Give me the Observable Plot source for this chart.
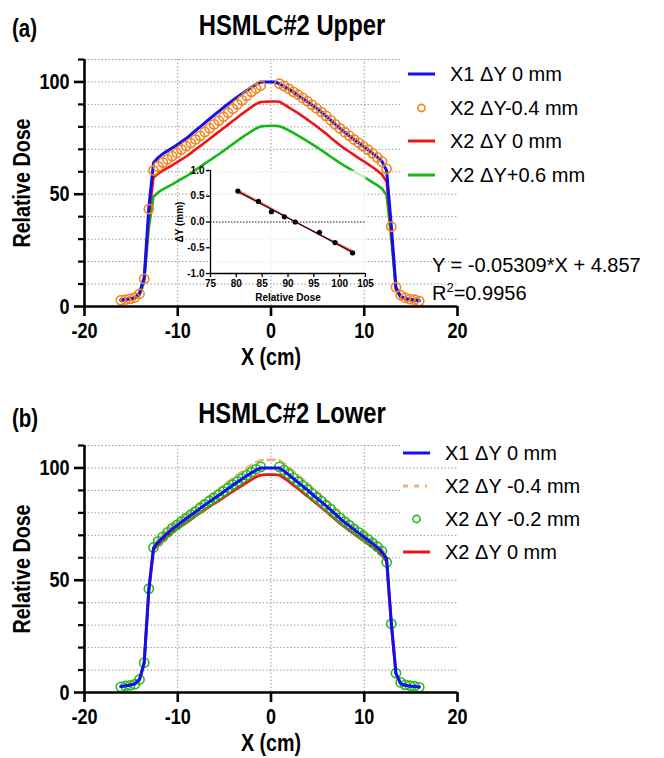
<!DOCTYPE html>
<html><head><meta charset="utf-8">
<script src="https://cdn.jsdelivr.net/npm/d3@7"></script>
<script src="https://cdn.jsdelivr.net/npm/@observablehq/plot@0.6"></script>
<style>
body{margin:0;background:#fff;}
#wrap{position:relative;width:664px;height:758px;overflow:hidden;background:#fff;font-family:"Liberation Sans",Arial,sans-serif;color:#000;}
.abs{position:absolute;white-space:nowrap;}
.nb{font-family:"Liberation Sans",Arial,sans-serif;font-weight:bold;}
.ltxt{font-size:20px;line-height:20px;}
.narrowL{transform:scaleX(0.82);transform-origin:left center;}
.narrowC{transform:scaleX(0.82);transform-origin:center center;}
</style></head><body>
<div id="wrap">
  <div class="abs nb narrowL" style="left:12px;top:16px;font-size:25px;line-height:25px;">(a)</div>
  <div class="abs nb narrowC" style="left:0;width:584px;text-align:center;top:11px;font-size:29px;line-height:29px;">HSMLC#2 Upper</div>
  <div class="abs nb narrowL" style="left:12px;top:406px;font-size:25px;line-height:25px;">(b)</div>
  <div class="abs nb narrowC" style="left:0;width:584px;text-align:center;top:399px;font-size:29px;line-height:29px;">HSMLC#2 Lower</div>
  <div id="top" class="abs" style="left:0;top:40px;"></div>
  <div id="bot" class="abs" style="left:0;top:426px;"></div>
  <div id="inset" class="abs" style="left:160px;top:160px;"></div>
  <div id="legTop"></div>
  <div id="legBot"></div>
  <div class="abs ltxt" style="left:432px;top:255px;">Y = -0.05309*X + 4.857</div>
  <div class="abs ltxt" style="left:432px;top:283px;">R<sup style="font-size:13px;line-height:0;vertical-align:8px;">2</sup>=0.9956</div>
</div>
<script>
// ---------- data ----------
const xPos = [-16.1,-15.6,-15.1,-14.6,-14.1,-13.6,-13.1,-12.6,-12.1,-11.6,-11.1,-10.6,-10.1,-9.6,-9.1,-8.6,-8.1,-7.6,-7.1,-6.6,-6.1,-5.6,-5.1,-4.6,-4.1,-3.6,-3.1,-2.6,-2.1,-1.6,-1.1,-0.6,-0.1,0.4,0.9,1.4,1.9,2.4,2.9,3.4,3.9,4.4,4.9,5.4,5.9,6.4,6.9,7.4,7.9,8.4,8.9,9.4,9.9,10.4,10.9,11.4,11.9,12.4,12.9,13.4,13.9,14.4,14.9,15.4,15.9];

// (a) Upper
const upX1dy0 = [3.0,3.2,3.5,4.0,6.0,13.0,44.0,64.0,66.3,68.0,69.3,70.6,71.9,73.4,74.8,76.5,78.3,80.0,81.8,83.5,85.2,86.9,88.6,90.2,91.8,93.3,94.8,96.2,97.6,98.9,100.0,100.0,100.0,100.0,99.2,98.0,96.8,95.5,94.0,92.6,91.2,89.7,88.3,86.6,84.8,83.0,81.1,79.3,77.6,76.0,74.4,72.9,71.3,69.8,68.2,66.5,64.6,60.5,36.0,8.5,4.5,3.6,3.2,3.0,2.8];
const upX2dyM04 = [2.8,3.1,3.4,4.0,5.7,12.3,43.4,60.6,62.4,64.1,65.5,67.0,68.4,69.9,71.4,72.8,74.4,76.0,77.7,79.4,81.1,82.8,84.5,86.3,88.1,90.0,91.8,93.8,95.6,97.1,98.4,null,null,null,99.2,98.2,97.0,95.6,94.3,92.9,91.4,89.8,88.2,86.6,84.9,83.0,81.1,79.3,77.6,76.0,74.4,72.9,71.3,69.8,68.2,66.4,64.5,61.3,35.6,8.6,5.0,3.9,3.3,3.0,2.4];
const upX2dy0 = [2.7,3.0,3.3,3.8,5.5,12.0,40.0,57.5,59.2,60.5,61.7,62.9,64.2,65.5,66.8,68.3,69.9,71.4,73.0,74.6,76.2,77.8,79.4,81.0,82.6,84.2,85.8,87.3,88.8,90.2,91.1,91.2,91.3,91.3,91.2,90.0,88.7,87.4,86.1,84.7,83.2,81.7,80.2,78.6,77.0,75.2,73.5,71.8,70.3,68.9,67.5,66.1,64.8,63.4,62.0,60.5,58.8,55.5,33.0,8.0,4.3,3.4,3.0,2.8,2.6];
const upX2dyP06 = [2.5,2.8,3.1,3.5,5.0,11.0,35.0,49.0,50.8,52.2,53.3,54.4,55.6,56.8,58.0,59.3,60.8,62.2,63.6,65.0,66.4,67.8,69.3,70.8,72.3,73.8,75.3,76.7,78.0,79.3,80.2,80.4,80.5,80.5,80.3,79.5,78.4,77.3,76.1,74.9,73.6,72.3,71.0,69.6,68.2,66.7,65.3,63.9,62.6,61.4,60.2,59.0,57.8,56.6,55.3,54.0,52.5,49.5,30.0,7.5,4.0,3.2,2.8,2.6,2.4];

// (b) Lower
const loX1dy0 = [2.7,3.0,3.3,3.9,5.8,13.3,46.0,64.4,67.0,69.0,71.0,72.8,74.3,75.9,77.4,78.9,80.4,82.0,83.5,85.0,86.4,87.8,89.3,90.8,92.3,93.7,95.1,96.5,97.8,99.0,100.0,100.0,100.0,100.0,100.0,98.6,97.0,95.3,93.6,91.9,90.2,88.4,86.6,84.9,83.1,81.3,79.4,77.5,75.8,74.2,72.6,71.0,69.5,67.9,66.3,64.6,62.6,59.5,31.0,8.5,4.0,3.2,2.9,2.7,2.5];
const loX2dyM04 = [2.8,3.1,3.4,4.0,6.0,13.6,47.0,65.5,68.4,70.5,72.6,74.5,76.1,77.8,79.4,81.0,82.7,84.4,86.0,87.6,89.1,90.6,92.2,93.8,95.4,96.9,98.4,99.9,101.3,102.6,103.4,103.6,103.6,103.6,103.4,102.1,100.4,98.6,96.8,95.0,93.2,91.3,89.4,87.6,85.7,83.8,81.8,79.8,78.0,76.3,74.6,72.9,71.3,69.6,67.9,66.1,64.0,60.5,32.0,8.8,4.1,3.3,3.0,2.8,2.6];
const loX2dyM02 = [2.5,2.9,3.2,3.7,5.8,13.3,46.2,64.6,67.3,69.3,71.3,73.1,74.6,76.2,77.7,79.2,80.7,82.3,83.8,85.3,86.7,88.1,89.6,91.1,92.6,94.0,95.4,96.8,98.1,99.4,100.5,null,null,null,100.5,99.0,97.3,95.6,93.9,92.2,90.5,88.7,86.9,85.2,83.4,81.6,79.7,77.8,76.1,74.5,72.9,71.3,69.8,68.2,66.6,64.9,62.9,58.0,30.6,8.6,4.5,3.4,3.0,2.8,2.3];
const loX2dy0 = [2.6,2.9,3.2,3.8,5.6,13.0,45.0,63.5,65.9,67.8,69.6,71.3,72.7,74.2,75.6,77.0,78.5,80.0,81.4,82.8,84.1,85.4,86.8,88.2,89.6,90.9,92.2,93.5,94.8,96.0,96.8,97.0,97.0,97.0,96.8,95.5,94.0,92.4,90.8,89.1,87.5,85.8,84.1,82.4,80.7,78.9,77.1,75.3,73.7,72.1,70.6,69.1,67.7,66.2,64.7,63.1,61.2,58.3,30.5,8.3,3.9,3.1,2.8,2.6,2.4];

// inset: dose vs ΔY
const insetDose = [80.3,84.3,86.8,89.3,91.4,96.1,99.1,102.5];
const insetDY   = [0.6,0.4,0.2,0.1,0.0,-0.2,-0.4,-0.6];
const fitDose = [80.3,102.5];
const fitDY   = [0.594,-0.585];
const bandDose = [80.3,86.0,91.4,97.0,102.5];
const bandLo   = [0.55,0.27,-0.015,-0.31,-0.63];
const bandHi   = [0.64,0.33,0.015,-0.27,-0.54];

// axes
const xDomain = [-20,20];
const yDomain = [0,110];
const xTicks = [-20,-10,0,10,20];
const xGrid = [-10,0,10];
const yMajor = [0,50,100];
const yMinor = [10,20,30,40,60,70,80,90,110];
const yGrid = [10,20,30,40,50,60,70,80,90,100,110];
const insetXTicks = [75,80,85,90,95,100,105];
const insetYTicks = [-1.0,-0.5,0.0,0.5,1.0];

const legTopItems = [
  {label:"X1 ΔY 0 mm", color:"#1010f0", kind:"line"},
  {label:"X2 ΔY-0.4 mm", color:"#f5841f", kind:"circle"},
  {label:"X2 ΔY 0 mm", color:"#f01515", kind:"line"},
  {label:"X2 ΔY+0.6 mm", color:"#15b815", kind:"line"}
];
const legBotItems = [
  {label:"X1 ΔY 0 mm", color:"#1010f0", kind:"line"},
  {label:"X2 ΔY -0.4 mm", color:"#f4b07a", kind:"dash"},
  {label:"X2 ΔY -0.2 mm", color:"#22bb22", kind:"circle"},
  {label:"X2 ΔY 0 mm", color:"#f01515", kind:"line"}
];

// ---------- helpers ----------
const FONT = '"Liberation Sans",Arial,sans-serif';
const tbl = arr => xPos.map((x,i) => ({x, y: arr[i]}));
const gridStyle = {stroke:"#9c9c9c", strokeOpacity:1, strokeWidth:1, strokeDasharray:"1.5,2"};

function condense(svg, f) {
  svg.querySelectorAll("text").forEach(t => {
    if (t.querySelector("tspan")) return;
    const L = t.getComputedTextLength();
    if (L > 0) {
      t.setAttribute("textLength", (L * f).toFixed(2));
      t.setAttribute("lengthAdjust", "spacingAndGlyphs");
    }
  });
}

function panel(lines) {
  return Plot.plot({
    width: 470, height: 330,
    marginLeft: 84, marginRight: 13, marginTop: 19, marginBottom: 64,
    x: {domain: xDomain},
    y: {domain: yDomain},
    style: {fontFamily: FONT, fontSize: "22px", fontWeight: "bold", background: "transparent", overflow: "visible"},
    marks: [
      Plot.gridY(yGrid, gridStyle),
      Plot.gridX(xGrid, gridStyle),
      ...lines,
      Plot.ruleX([xDomain[0]], {y1: yDomain[0], y2: yDomain[1], stroke:"#000", strokeWidth: 2.6}),
      Plot.ruleY([yDomain[0]], {x1: xDomain[0], x2: xDomain[1], stroke:"#000", strokeWidth: 2.6}),
      Plot.axisX(xTicks, {tickSize: 10, tickPadding: 6, strokeWidth: 2.6, label: null, tickFormat: d => String(d)}),
      Plot.axisY(yMajor, {tickSize: 10, tickPadding: 5, strokeWidth: 2.6, label: null, tickFormat: d => String(d)}),
      Plot.axisY(yMinor, {tickSize: 6, strokeWidth: 2.2, label: null, tickFormat: () => ""}),
      Plot.text(["Relative Dose"], {frameAnchor: "left", textAnchor: "middle", dx: -62, rotate: -90, fontSize: 24, fontWeight: "bold"}),
      Plot.text(["X (cm)"], {frameAnchor: "bottom", textAnchor: "middle", lineAnchor: "middle", dy: 51, fontSize: 24, fontWeight: "bold"})
    ]
  });
}

const topPlot = panel([
  Plot.line(tbl(upX2dyP06), {x:"x", y:"y", stroke:"#15b815", strokeWidth: 2.6}),
  Plot.line(tbl(upX2dy0), {x:"x", y:"y", stroke:"#f01515", strokeWidth: 2.6}),
  Plot.line(tbl(upX1dy0), {x:"x", y:"y", stroke:"#1010f0", strokeWidth: 3}),
  Plot.dot(tbl(upX2dyM04), {x:"x", y:"y", r: 4.6, stroke:"#f5841f", strokeWidth: 1.6, fill: "none"})
]);
document.getElementById("top").appendChild(topPlot);
condense(topPlot, 0.82);

const botPlot = panel([
  Plot.line(tbl(loX2dyM04), {x:"x", y:"y", stroke:"#f4b07a", strokeWidth: 2.6, strokeDasharray: "7,5"}),
  Plot.line(tbl(loX2dy0), {x:"x", y:"y", stroke:"#f01515", strokeWidth: 2.8}),
  Plot.dot(tbl(loX2dyM02), {x:"x", y:"y", r: 4.6, stroke:"#22bb22", strokeWidth: 1.6, fill: "none"}),
  Plot.line(tbl(loX1dy0), {x:"x", y:"y", stroke:"#1010f0", strokeWidth: 3})
]);
document.getElementById("bot").appendChild(botPlot);
condense(botPlot, 0.82);

// inset
const insetPlot = Plot.plot({
  width: 217, height: 145,
  marginLeft: 50, marginRight: 12, marginTop: 10, marginBottom: 32,
  x: {domain: [75,105]},
  y: {domain: [-1,1]},
  style: {fontFamily: FONT, fontSize: "10px", fontWeight: "bold", background: "transparent", overflow: "visible"},
  marks: [
    Plot.frame({fill: "#fff", fillOpacity: 0.75, stroke: null}),
    Plot.ruleY([0], {stroke: "#000", strokeWidth: 0.9, strokeDasharray: "1.5,1.5"}),
    Plot.areaY(bandDose.map((d,i) => ({x:d, lo:bandLo[i], hi:bandHi[i]})), {x:"x", y1:"lo", y2:"hi", fill:"#e84a4a", fillOpacity: 0.55}),
    Plot.line(fitDose.map((d,i) => ({x:d, y:fitDY[i]})), {x:"x", y:"y", stroke:"#3a0000", strokeWidth: 1.3}),
    Plot.dot(insetDose.map((d,i) => ({x:d, y:insetDY[i]})), {x:"x", y:"y", r: 2.6, fill:"#000"}),
    Plot.ruleX([75], {y1: -1, y2: 1, stroke:"#000", strokeWidth: 1.3}),
    Plot.ruleY([-1], {x1: 75, x2: 105, stroke:"#000", strokeWidth: 1.3}),
    Plot.axisX(insetXTicks, {tickSize: 4, tickPadding: 2, strokeWidth: 1.3, label: null, tickFormat: d => String(d)}),
    Plot.axisY(insetYTicks, {tickSize: 4, tickPadding: 2, strokeWidth: 1.3, label: null, tickFormat: d => d.toFixed(1)}),
    Plot.text(["ΔY (mm)"], {frameAnchor: "left", textAnchor: "middle", dx: -31, rotate: -90, fontSize: 10, fontWeight: "bold"}),
    Plot.text(["Relative Dose"], {frameAnchor: "bottom", textAnchor: "middle", lineAnchor: "middle", dy: 24, fontSize: 10, fontWeight: "bold"})
  ]
});
document.getElementById("inset").appendChild(insetPlot);

// legends
function sample(item) {
  const ns = "http://www.w3.org/2000/svg";
  const s = document.createElementNS(ns, "svg");
  s.setAttribute("width", 31); s.setAttribute("height", 20);
  if (item.kind === "circle") {
    const c = document.createElementNS(ns, "circle");
    c.setAttribute("cx", 15.5); c.setAttribute("cy", 10); c.setAttribute("r", 3.6);
    c.setAttribute("fill", "none"); c.setAttribute("stroke", item.color); c.setAttribute("stroke-width", 1.6);
    s.appendChild(c);
  } else {
    const l = document.createElementNS(ns, "line");
    l.setAttribute("x1", 2); l.setAttribute("x2", 29); l.setAttribute("y1", 10); l.setAttribute("y2", 10);
    l.setAttribute("stroke", item.color); l.setAttribute("stroke-width", 3);
    if (item.kind === "dash") l.setAttribute("stroke-dasharray", "5,6,5,6,2");
    s.appendChild(l);
  }
  return s;
}
function legend(container, items, centers, sampleLeft, textLeft, box) {
  const el = document.getElementById(container);
  if (box) {
    const b = document.createElement("div");
    b.className = "abs"; Object.assign(b.style, box); b.style.background = "#fff";
    el.appendChild(b);
  }
  items.forEach((it, i) => {
    const c = centers[i];
    if (!box) {
      const bg = document.createElement("div");
      bg.className = "abs";
      Object.assign(bg.style, {left: "400px", top: (c - 12) + "px", width: "200px", height: "24px", background: "#fff"});
      el.appendChild(bg);
    }
    const s = sample(it);
    s.setAttribute("class", "abs");
    s.style.left = sampleLeft + "px"; s.style.top = (c - 10) + "px";
    el.appendChild(s);
    const t = document.createElement("div");
    t.className = "abs ltxt";
    t.style.left = textLeft + "px"; t.style.top = (c - 10) + "px";
    t.textContent = it.label;
    el.appendChild(t);
  });
}
legend("legTop", legTopItems, [74, 108, 141, 175], 406, 450, {left:"400px", top:"56px", width:"264px", height:"132px"});
legend("legBot", legBotItems, [453, 486, 519, 552], 401, 445, null);
</script>
</body></html>
